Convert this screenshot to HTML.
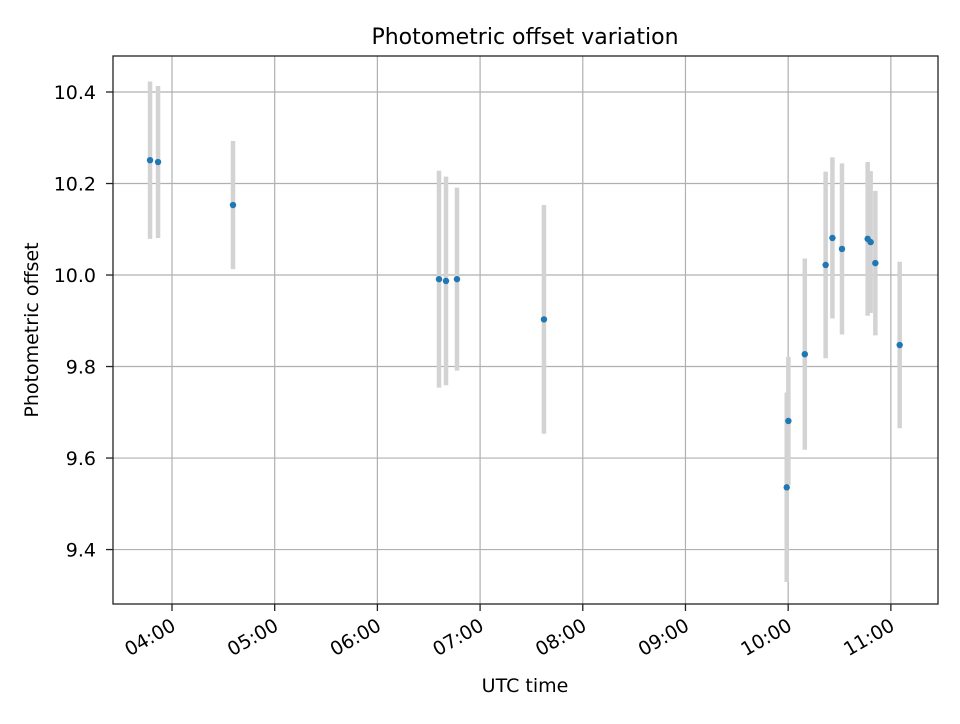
<!DOCTYPE html>
<html><head><meta charset="utf-8"><style>
body{margin:0;background:#fff;font-family:"DejaVu Sans","Liberation Sans",sans-serif}
</style></head><body>
<svg id="chart" width="960" height="720" xmlns="http://www.w3.org/2000/svg" font-family="DejaVu Sans, Liberation Sans, sans-serif">
<rect width="960" height="720" fill="#fff"/>
<g id="grid"></g><g id="errs"></g><g id="pts"></g><g id="ticks"></g>
<rect x="113" y="56" width="825" height="548" fill="none" stroke="#222" stroke-width="1.3"/>
<text x="525" y="44" text-anchor="middle" font-size="22">Photometric offset variation</text>
<text x="525" y="692" text-anchor="middle" font-size="19">UTC time</text>
<text transform="translate(38,330) rotate(-90)" text-anchor="middle" font-size="19">Photometric offset</text>
</svg>
<script>
const times=[3.786,3.864,4.594,6.600,6.668,6.775,7.622,9.986,10.002,10.162,10.365,10.431,10.524,10.774,10.803,10.849,11.086];
const values=[10.251,10.247,10.153,9.991,9.987,9.991,9.903,9.536,9.681,9.827,10.022,10.081,10.057,10.079,10.072,10.026,9.847];
const errors=[0.172,0.166,0.140,0.237,0.228,0.200,0.250,0.207,0.140,0.209,0.204,0.176,0.187,0.168,0.155,0.158,0.182];
const xTicks=[4,5,6,7,8,9,10,11];
const xTickLabels=["04:00","05:00","06:00","07:00","08:00","09:00","10:00","11:00"];
const yTicks=[9.4,9.6,9.8,10.0,10.2,10.4];
const yTickLabels=["9.4","9.6","9.8","10.0","10.2","10.4"];
const X0=113,X1=938,Y0=604,Y1=56,tMin=3.4255,tMax=11.459,vMin=9.281,vMax=10.4787;
const xs=t=>X0+(t-tMin)/(tMax-tMin)*(X1-X0);
const ys=v=>Y0-(v-vMin)/(vMax-vMin)*(Y0-Y1);
const NS="http://www.w3.org/2000/svg";
function mk(tag,attrs,parent){const e=document.createElementNS(NS,tag);for(const k in attrs)e.setAttribute(k,attrs[k]);document.getElementById(parent).appendChild(e);return e;}
xTicks.forEach((t,i)=>{const x=xs(t);
 let g=mk('line',{x1:x,x2:x,y1:Y1,y2:Y0,stroke:'#b0b0b0','stroke-width':1.2},'grid');
 
 let tk=mk('line',{x1:x,x2:x,y1:Y0,y2:Y0+7,stroke:'#222','stroke-width':1.3},'ticks');
 
 let tx=mk('text',{transform:`translate(${x-2},${Y0+13}) rotate(-30)`,'text-anchor':'end','font-size':'19',dy:'0.74em'},'ticks');
 tx.textContent=xTickLabels[i];
 });
yTicks.forEach((v,i)=>{const y=ys(v);
 let g=mk('line',{x1:X0,x2:X1,y1:y,y2:y,stroke:'#b0b0b0','stroke-width':1.2},'grid');
 
 let tk=mk('line',{x1:X0-7,x2:X0,y1:y,y2:y,stroke:'#222','stroke-width':1.3},'ticks');
 
 let tx=mk('text',{x:X0-17,y:y+7,'text-anchor':'end','font-size':'19'},'ticks');
 tx.textContent=yTickLabels[i];
 });
times.forEach((t,i)=>{const x=xs(t);
 let e=mk('line',{x1:x,x2:x,y1:ys(values[i]+errors[i]),y2:ys(values[i]-errors[i]),stroke:'#d3d3d3','stroke-width':4.5},'errs');
 
 let c=mk('circle',{cx:x,cy:ys(values[i]),r:3.2,fill:'#1f77b4'},'pts');
 });
</script>
</body></html>
